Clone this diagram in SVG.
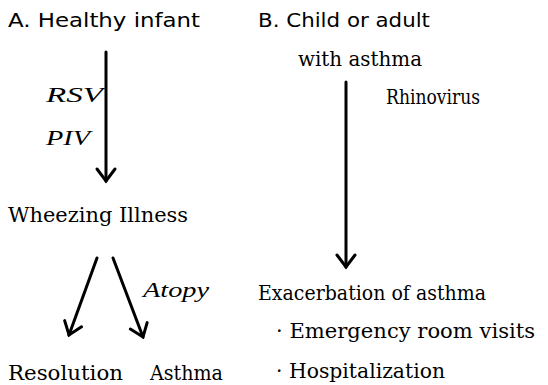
<svg xmlns="http://www.w3.org/2000/svg" width="548" height="385" viewBox="0 0 548 385">
<style>
.sans{font-family:"DejaVu Sans","Liberation Sans",sans-serif;font-size:20px;fill:#000}
.serif{font-family:"DejaVu Serif","Liberation Serif",serif;font-size:20px;fill:#000}
.it{font-family:"Liberation Serif","DejaVu Serif",serif;font-style:italic;font-size:22px;fill:#000}
.conn{stroke:#000;stroke-width:3;fill:none;stroke-linecap:round}
</style>
<defs>
<marker id="ah" markerUnits="userSpaceOnUse" markerWidth="26" markerHeight="26" refX="13" refY="13" orient="auto" overflow="visible">
<path d="M1,4 L13,13 L1,22" fill="none" stroke="#000" stroke-width="3" stroke-linecap="round" stroke-linejoin="miter"/>
</marker>
</defs>
<rect width="548" height="385" fill="#fff"/>
<g id="connectors">
<line class="conn" x1="106" y1="52" x2="106" y2="181" marker-end="url(#ah)"/>
<line class="conn" x1="346" y1="82" x2="346" y2="267" marker-end="url(#ah)"/>
<line class="conn" x1="97" y1="258" x2="69" y2="335" marker-end="url(#ah)"/>
<line class="conn" x1="113" y1="258" x2="143" y2="337" marker-end="url(#ah)"/>
</g>
<g id="healthy-infant"><text class="sans" x="8" y="27" textLength="192" lengthAdjust="spacingAndGlyphs">A. Healthy infant</text></g>
<g id="child-adult"><text class="sans" x="258" y="27" textLength="172" lengthAdjust="spacingAndGlyphs">B. Child or adult</text>
<text class="serif" x="298" y="66" textLength="124" lengthAdjust="spacingAndGlyphs">with asthma</text></g>
<g id="label-rsv"><text class="it" x="46" y="102" textLength="57" lengthAdjust="spacingAndGlyphs">RSV</text>
<text class="it" x="46" y="145" textLength="44" lengthAdjust="spacingAndGlyphs">PIV</text></g>
<g id="label-rhinovirus"><text class="serif" x="386" y="104" font-size="19" textLength="94" lengthAdjust="spacingAndGlyphs">Rhinovirus</text></g>
<g id="wheezing"><text class="serif" x="8" y="222" textLength="180" lengthAdjust="spacingAndGlyphs">Wheezing Illness</text></g>
<g id="label-atopy"><text class="it" x="143" y="297" textLength="66" lengthAdjust="spacingAndGlyphs">Atopy</text></g>
<g id="exacerbation"><text class="serif" x="258" y="300" textLength="228" lengthAdjust="spacingAndGlyphs">Exacerbation of asthma</text>
<text class="serif" x="276" y="338" textLength="259" lengthAdjust="spacingAndGlyphs">· Emergency room visits</text>
<text class="serif" x="276" y="378" textLength="169" lengthAdjust="spacingAndGlyphs">· Hospitalization</text></g>
<g id="resolution"><text class="serif" x="8" y="380" textLength="115" lengthAdjust="spacingAndGlyphs">Resolution</text></g>
<g id="asthma"><text class="serif" x="150" y="380" textLength="73" lengthAdjust="spacingAndGlyphs">Asthma</text></g>
</svg>
